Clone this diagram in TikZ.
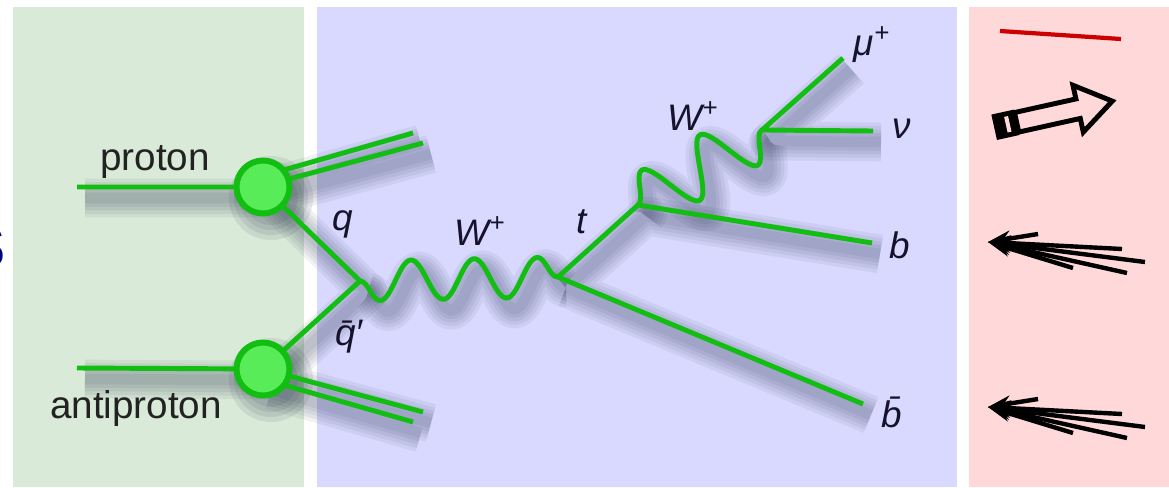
\documentclass[tikz,border=0pt]{standalone}
\usepackage{fontspec}
\setmainfont{Liberation Sans}
\usetikzlibrary{positioning,decorations.pathmorphing,arrows.meta}

\definecolor{greenpanel}{RGB}{217,234,216}
\definecolor{bluepanel}{RGB}{217,217,255}
\definecolor{pinkpanel}{RGB}{255,217,217}
\definecolor{feyngreen}{RGB}{18,190,18}
\definecolor{blobfill}{RGB}{88,236,88}
\definecolor{labelcol}{RGB}{22,18,44}
\definecolor{beamcol}{RGB}{34,34,34}
\definecolor{muonred}{RGB}{204,0,0}
\definecolor{shadowc}{RGB}{30,40,70}
\definecolor{headnavy}{RGB}{0,0,128}

\tikzset{
  fermion/.style={draw=feyngreen, line width=2.8pt},
  wmain/.style={decorate, decoration={snake, segment length=1.265cm, amplitude=0.4cm, mirror}},
  wtop/.style={decorate, decoration={snake, segment length=1.36cm, amplitude=0.56cm}},
  blob/.style={circle, draw=feyngreen, fill=blobfill, line width=3.4pt, minimum size=1.06cm, inner sep=0pt},
  beamlabel/.style={text=beamcol, inner sep=0pt, anchor=base, font=\fontsize{22}{26}\selectfont},
  plabel/.style={text=labelcol, inner sep=0pt, anchor=base, font=\fontsize{21}{25}\selectfont\itshape},
  jetline/.style={draw=black, line width=2.5pt, -{Stealth[length=13pt, width=9pt]}},
}

% all lines of the graph, drawn once as shadow and once in green
\newcommand\feynlines[1]{%
  \draw[#1] (pin) -- (pp) (apin) -- (pbar)
    (pspec1) -- (pspec1e) (pspec2) -- (pspec2e)
    (aspec1) -- (aspec1e) (aspec2) -- (aspec2e)
    (pp) -- (qv) -- (pbar)
    (tv) -- (tv2) -- (bq) (tv) -- (bbar)
    (mu) -- (wv) -- (nu);
  \draw[#1, wmain] (qv) -- (tv);
  \draw[#1, wtop] (tv2) -- (wv);
}

\begin{document}
\begin{tikzpicture}[x=0.02cm, y=-0.02cm, line join=round]
  \useasboundingbox (0,0) rectangle (1169,487);
  % Panels
  \fill[greenpanel] (13,7) rectangle (304,487);
  \fill[bluepanel] (317,7) rectangle (957,487);
  \fill[pinkpanel] (969,7) rectangle (1169,487);
  % heading letter, cut at the edge
  \node[text=headnavy, inner sep=0pt, anchor=base east,
    font=\fontsize{46}{50}\selectfont\bfseries] (sletter) at (7,268) {s};

  % Vertices and line ends
  \coordinate (pin) at (77,187);
  \coordinate (apin) at (77,368);
  \coordinate (pp) at (263,187);
  \coordinate (pbar) at (263,369);
  \coordinate (pspec1) at (263,176);
  \coordinate (pspec1e) at (413,133);
  \coordinate (pspec2) at (263,186);
  \coordinate (pspec2e) at (423,143);
  \coordinate (aspec1) at (263,379);
  \coordinate (aspec1e) at (413,422);
  \coordinate (aspec2) at (263,369);
  \coordinate (aspec2e) at (423,412);
  \coordinate (qv) at (360,281);
  \coordinate (tv) at (558,277);
  \coordinate (tv2) at (638,205);
  \coordinate (wv) at (762,130);
  \coordinate (mu) at (843,58);
  \coordinate (nu) at (873,131);
  \coordinate (bq) at (872,243);
  \coordinate (bbar) at (863,404);

  % Shadows
  \begin{scope}[transform canvas={shift={(8,11)}}]
    \foreach \lw in {22pt,18pt,14pt,10pt,6pt}{
      \feynlines{draw=shadowc, line width=\lw, opacity=0.065}
    }
    \foreach \r in {42,37,32,27}{
      \fill[shadowc, opacity=0.09] (pp) circle[radius=\r];
      \fill[shadowc, opacity=0.09] (pbar) circle[radius=\r];
    }
  \end{scope}

  % Edges
  \feynlines{fermion}

  % Node: proton, antiproton
  \node[blob] (ppblob) at (pp) {};
  \node[blob] (pbarblob) at (pbar) {};

  % Labels
  \node[beamlabel] (lproton) at (155,170) {proton};
  \node[beamlabel] (lantiproton) at (136,418) {antiproton};
  \node[plabel] (lq) at (343,230) {q};
  \node[plabel] (lqbar) at (349,345) {\={q}′};
  \node[plabel] (lw) at (480,245) {W\textsuperscript{+}};
  \node[plabel] (lt) at (582,233) {t};
  \node[plabel] (lwtop) at (693,130) {W\textsuperscript{+}};
  \node[plabel] (lmu) at (872,55) {μ\textsuperscript{+}};
  \node[plabel] (lnu) at (902,138) {ν};
  \node[plabel] (lb) at (900,258) {b};
  \node[plabel] (lbbar) at (892,427) {\={b}};

  % Node: muon track
  \coordinate (mustart) at (1000,31);
  \coordinate (muend) at (1121,39);
  \draw[muonred, line width=2.4pt] (mustart) -- (muend);

  % Node: missing energy arrow
  \begin{scope}[shift={(1000,126)}, rotate=12.5]
    \fill[black] (-6,-13) rectangle (17,13);
    \fill[pinkpanel] (6,-8) rectangle (10,8);
    \draw[black, line width=2.8pt, line join=miter]
      (17,-10) -- (80,-10) -- (80,-24) -- (115,0) -- (80,24) -- (80,10) -- (17,10) -- cycle;
  \end{scope}

  % Node: jets
  \foreach \jn/\jy in {a/242,b/407}{
    \coordinate (jet\jn) at (988,\jy);
    \foreach \k/\dx/\dy in {1/50/-8,2/134/7,3/157/20,4/139/31,5/85/26}{
      \coordinate (jet\jn\k) at ([shift={(\dx,\dy)}]jet\jn);
      \draw[jetline] (jet\jn\k) -- (jet\jn);
    }
  }
\end{tikzpicture}
\end{document}
